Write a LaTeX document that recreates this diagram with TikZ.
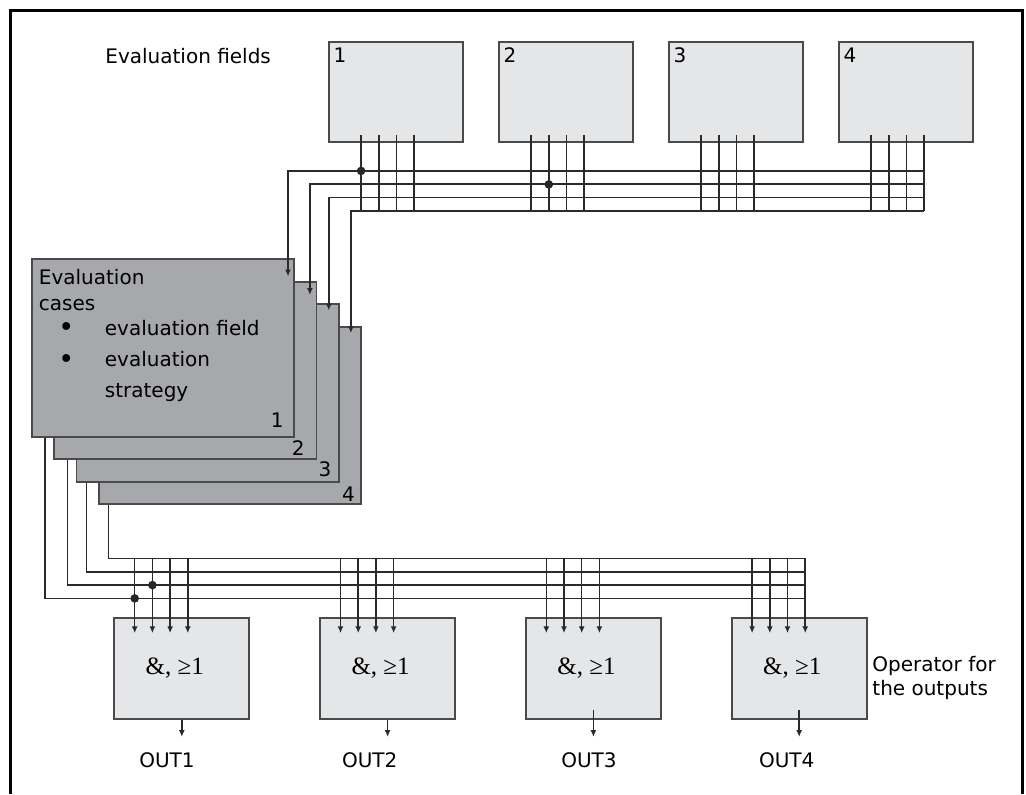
\documentclass[tikz,border=0pt]{standalone}
\usepackage{fontspec}
\setmainfont{DejaVu Sans}
\newfontfamily\opfont{Liberation Serif}
\usetikzlibrary{arrows.meta,calc}

\definecolor{fieldgray}{HTML}{E5E6E8}
\definecolor{casegray}{HTML}{A7A8AB}
\definecolor{wiregray}{HTML}{2A2A2A}

\newcommand{\casebullet}{\makebox[33pt][l]{\hspace{9.7pt}%
    {\fontsize{13.5}{12}\selectfont\raisebox{-0.9pt}{\textbullet}}}}

\tikzset{
  field/.style={draw=wiregray!85, line width=0.9pt, fill=fieldgray,
    minimum width=67pt, minimum height=50pt, inner sep=0pt},
  casebox/.style={draw=wiregray!85, line width=0.9pt, fill=casegray,
    minimum width=131.2pt, minimum height=88.7pt, inner sep=0pt},
  opbox/.style={draw=wiregray!85, line width=0.9pt, fill=fieldgray,
    minimum width=67.5pt, minimum height=50.5pt, inner sep=0pt},
  wire/.style={draw=wiregray, line width=0.75pt},
  tip/.style={wire, -{Latex[length=3.4pt,width=3pt]}},
  dot/.style={circle, fill=black!85, inner sep=0pt, minimum size=4.3pt},
  lbl/.style={inner sep=0pt, font=\fontsize{10}{12}\selectfont},
}

\begin{document}
\begin{tikzpicture}[x=0.5pt, y=-0.5pt]
    \useasboundingbox (0,0) rectangle (1026,794);
    \draw[line width=1.5pt] (10,794) -- (10,10) -- (1022,10) -- (1022,794);

    % Evaluation fields
    \node[lbl, anchor=base west] (fieldtitle) at (105,63) {Evaluation fields};
    \foreach \j in {1,...,4} {
        \node[field] (f\j) at ({396+170*(\j-1)},92) {};
        \node[lbl, anchor=base west] (f\j-no) at ($(f\j.north west)+(5,21.3)$) {\j};
        \foreach \i in {1,...,4}
            \draw[wire] ($(f\j.south west)+({33+17.7*(\i-1)},-8)$) -- ++(0,76);
    }

    % Evaluation cases, stacked
    \foreach \k/\dx/\dy in {4/-7/-4, 3/-8/-6, 2/-12.5/-4.5, 1/-11/-10} {
        \node[casebox] (case\k) at ({162.9+22.4*(\k-1)},{348+22.5*(\k-1)}) {};
        \node[lbl, anchor=base east] (case\k-no) at ($(case\k.south east)+(\dx,\dy)$) {\k};
    }
    \node[lbl, anchor=base west] (casetext) at (38.5,284) {%
        \begin{tabular}[t]{@{}l@{}}
        Evaluation\\[1pt]
        cases\\[0.5pt]
        \casebullet evaluation field\\[3.8pt]
        \casebullet evaluation\\[3.6pt]
        \hspace*{33pt}strategy
        \end{tabular}};

    % top bus into the cases
    \foreach \i/\dx/\dy in {1/-7/18, 2/-7.5/14, 3/-11/7, 4/-11.3/7.2} {
        \coordinate (tbus\i) at ($(f4.south west)+(86.1,{28+13.33*(\i-1)})$);
        \coordinate (in\i) at ($(case\i.north east)+(\dx,\dy)$);
        \draw[tip] (tbus\i) -| (in\i);
    }
    \node[dot] (d1) at ($(f1.south west)+(33,28)$) {};
    \node[dot] (d2) at ($(f2.south west)+(50.7,41.5)$) {};

    % Operators for the outputs
    \foreach \m/\dx in {1/-14.8, 2/-17.9, 3/-4.4, 4/-12.5} {
        \node[opbox] (op\m) at ({181.8+205.8*(\m-1)},668.5) {};
        \node[inner sep=0pt, font=\opfont\fontsize{12.5}{14}\selectfont] (op\m-txt)
            at ($(op\m.center)+(-7,0)$) {\&, ≥1};
        \node[lbl, anchor=base] (out\m) at ($(op\m.south)+(\dx,48)$) {OUT\m};
        \foreach \i in {1,...,4}
            \draw[tip] ($(op\m.north west)+({21.3+17.7*(\i-1)},-58.7)$)
                -- ($(op\m.north west)+({21.3+17.7*(\i-1)},16)$);
    }
    \foreach \m/\s in {1/0, 2/0, 3/-10, 4/-10}
        \draw[tip] ($(op\m.south)+(0,\s)$) -- ($(op\m.south)+(0,17)$);
    \node[lbl, anchor=base west] (optext) at (872,671.7) {%
        \fontsize{10}{11.65}\selectfont
        \begin{tabular}[t]{@{}l@{}}Operator for\\the outputs\end{tabular}};

    % bottom bus out of the cases
    \foreach \k/\dx in {1/14, 2/14.2, 3/10.8, 4/10.4} {
        \coordinate (bbus\k) at ($(op4.north west)+(74.4,{-18.7-13.33*(\k-1)})$);
        \draw[wire] ($(case\k.south west)+(\dx,0)$) |- (bbus\k);
    }
    \node[dot] (d3) at ($(op1.north west)+(21.3,-18.7)$) {};
    \node[dot] (d4) at ($(op1.north west)+(39,-32)$) {};
\end{tikzpicture}
\end{document}
